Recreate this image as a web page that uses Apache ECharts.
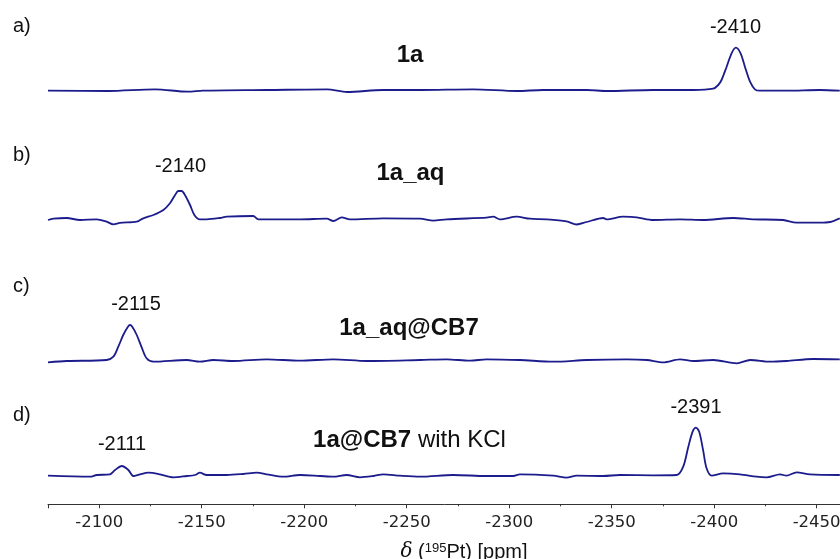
<!DOCTYPE html>
<html><head><meta charset="utf-8">
<script src="https://cdn.jsdelivr.net/npm/echarts@6/dist/echarts.min.js"></script>
<style>html,body{margin:0;padding:0;background:#fff}#c{width:840px;height:559px}</style>
</head><body><div id="c"></div>
<script>
// ---- data (chemical shift in ppm, intensity in arbitrary units) ----
const ppmA = [-2075,-2104.3,-2127.2,-2143.3,-2150.6,-2181.8,-2211.1,-2220.9,-2238.4,-2256.5,-2282.3,-2303.8,-2316.5,-2337.9,-2347.7,-2370.1,-2389.6,-2399.5,-2402,-2403.6,-2406.1,-2408.5,-2410.6,-2412.9,-2415,-2417.5,-2419.9,-2422.4,-2435.5,-2451.6,-2461.3];
const intA = [-0.2,-0.5,1.2,-1.2,-0.2,0.5,1.2,-1.5,0.5,0.5,1.2,-0.5,0.5,0.5,-0.5,0.5,0.5,1.8,5.5,10.5,23.8,37.2,42.8,37.2,23.8,8.8,1.2,-0.2,-0.2,0.5,-0.2];

const ppmB = [-2075,-2077.6,-2084.1,-2090.6,-2098.7,-2103.6,-2106.9,-2110.1,-2118.3,-2121.5,-2126.4,-2131.3,-2134.5,-2137,-2138.6,-2140.2,-2141.8,-2144.3,-2146.4,-2149.1,-2152.4,-2158.9,-2162.2,-2175.1,-2177.6,-2197.9,-2211,-2214.2,-2218.3,-2222.3,-2238.6,-2256.5,-2263,-2269.5,-2289,-2292.2,-2295.5,-2303.6,-2310.1,-2318.3,-2328,-2332.9,-2337.8,-2345.9,-2347.5,-2355.6,-2362.2,-2370.3,-2383.3,-2394.6,-2409.3,-2419,-2433.7,-2440.2,-2451.6,-2456.5,-2461.3];
const intB = [-0.7,0.6,1.3,-0.7,0,-2.4,-5,-3.5,-2.4,1,4.3,9.3,16,24.3,28.3,28.3,24.3,14.3,4.3,0,0,1.3,2.6,3.3,0,0,0.6,-1.7,2,0,1,0.6,-1.4,0,1.6,2.6,0,2.6,0.6,0,-2,-5.2,-2.7,1.3,0,2.6,2,-0.7,0,-0.7,1.3,0,-0.7,-3.4,-3.4,-2.7,1];

const ppmC = [-2075,-2084.1,-2103.6,-2106.9,-2109.3,-2111.7,-2114,-2115,-2116.1,-2118.3,-2120.7,-2123.1,-2126.4,-2142.7,-2149.1,-2155.6,-2165.4,-2181.7,-2197.9,-2214.2,-2230.5,-2256.5,-2269.5,-2280.9,-2289,-2305.2,-2321.5,-2337.8,-2357.3,-2367.1,-2375.2,-2383.3,-2389.9,-2399.6,-2411,-2417.6,-2427.3,-2435.3,-2448.3,-2461.3];
const intC = [-1.3,0,1,4.3,14.3,26,34.3,36,34.3,26,13.7,2.7,-0.7,1,-0.7,1,0,1.7,0.3,1.7,0,1,1.7,0.3,1.7,1,-0.7,1,1.7,1,-1.3,1.7,0,1,-2.3,1,-0.7,0,2,1.7];

const ppmD = [-2075,-2095.5,-2098.8,-2105.2,-2107.7,-2111,-2114.2,-2116.6,-2119.9,-2123.9,-2129.6,-2136.1,-2142.7,-2146.7,-2149.1,-2152.4,-2162.2,-2170.3,-2176.9,-2181.7,-2189.8,-2197.9,-2207.7,-2214.2,-2220.7,-2227.2,-2233.8,-2238.6,-2246.7,-2256.5,-2272.7,-2289,-2302,-2305.2,-2321.5,-2328,-2332.9,-2345.9,-2354,-2370.3,-2381.7,-2384.9,-2387.4,-2389.5,-2391.1,-2392.7,-2394.6,-2396.3,-2398.8,-2404.4,-2412.6,-2420.7,-2425.6,-2432.1,-2435.3,-2440.2,-2446.7,-2461.3];
const intD = [0,-1,0.7,1.4,5.7,9.7,5.7,-0.3,1.4,3,1.4,-1.6,-0.3,0.7,3,0.7,0.7,1.7,3,1.4,-1,0.7,-0.3,-1,0.7,-1.6,-0.3,1.4,0,-1,0.7,-0.3,-0.3,1.4,0,-2,0,-0.3,0.7,0.4,0.7,9,29,44,48,44,25.7,7.4,0,2.4,1.4,-1,-1.6,1.4,0,3.4,1.4,0.7];

const panelLabels = ['a)', 'b)', 'c)', 'd)'];
const sampleNames = ['{b|1a}', '{b|1a_aq}', '{b|1a_aq@CB7}', '{b|1a@CB7} with KCl'];
const peakLabels = [['-2410'], ['-2140'], ['-2115'], ['-2111', '-2391']];

// ---- layout ----
const spectra = [[ppmA, intA], [ppmB, intB], [ppmC, intC], [ppmD, intD]];
const baseY = [90.5, 219.3, 361, 475.7];
const panelLabelY = [26, 155.5, 286, 415.5];
const nameXY = [[410, 55], [410.5, 173], [409, 328], [409.5, 440]];
const peakXY = [[[735.5, 27]], [[180.5, 166]], [[136, 304]], [[122, 444], [696, 407]]];
const PX_PER_PPM = 2.0497;
const X_MIN = -2500, X_MAX = -2075;
const LEFT = 48, WIDTH = (X_MAX - X_MIN) * PX_PER_PPM;
const SANS = '"Liberation Sans", Arial, Helvetica, sans-serif';
const LINE = '#1c1c8c';

const grids = [], xAxes = [], yAxes = [], series = [];
spectra.forEach(function (s, i) {
  grids.push({ left: LEFT, width: WIDTH, top: baseY[i] - 60, height: 80, outerBoundsMode: 'none', containLabel: false });
  const bottom = i === 3;
  xAxes.push({
    type: 'value', gridIndex: i, min: X_MIN, max: X_MAX, inverse: true, interval: 50,
    show: bottom, position: 'bottom', offset: 8.6,
    axisLine: { show: true, onZero: false, lineStyle: { color: '#333', width: 1 } },
    axisTick: { show: true, length: 4, lineStyle: { color: '#333', width: 1 } },
    axisLabel: { show: true, margin: 10, color: '#222', fontFamily: '"DejaVu Sans", sans-serif', fontSize: 16.5,
      formatter: function (v) { return Math.abs(v % 50) < 1e-6 ? String(v) : ''; } },
    splitLine: { show: false }
  });
  yAxes.push({ type: 'value', gridIndex: i, min: -20, max: 60, show: false });
  const n = Math.min(s[0].length, s[1].length);
  const data = [];
  for (let k = 0; k < n; k++) data.push([s[0][k], s[1][k]]);
  series.push({
    type: 'line', xAxisIndex: i, yAxisIndex: i, data: data, showSymbol: false, smooth: 0.3,
    lineStyle: { color: LINE, width: 1.8 }, silent: true, animation: false
  });
});
// minor ticks axis (every 25 ppm) on bottom panel
xAxes.push({
  type: 'value', gridIndex: 3, min: X_MIN, max: X_MAX, inverse: true, interval: 25,
  position: 'bottom', offset: 8.6,
  axisLine: { show: false, onZero: false }, axisLabel: { show: false }, splitLine: { show: false },
  axisTick: { show: true, length: 2, lineStyle: { color: '#333', width: 1 } }
});

const graphic = [];
panelLabels.forEach(function (t, i) {
  graphic.push({ type: 'text', x: 13, y: panelLabelY[i],
    style: { text: t, font: '20px ' + SANS, fill: '#111', textAlign: 'left', textVerticalAlign: 'middle' } });
});
sampleNames.forEach(function (t, i) {
  graphic.push({ type: 'text', x: nameXY[i][0], y: nameXY[i][1],
    style: { text: t, fontSize: 24, fontFamily: SANS, fill: '#111', textAlign: 'center', textVerticalAlign: 'middle',
      rich: { b: { fontSize: 24, fontFamily: SANS, fontWeight: 'bold', fill: '#111' } } } });
});
peakLabels.forEach(function (arr, i) {
  arr.forEach(function (t, j) {
    graphic.push({ type: 'text', x: peakXY[i][j][0], y: peakXY[i][j][1],
      style: { text: t, font: '20px ' + SANS, fill: '#111', textAlign: 'center', textVerticalAlign: 'middle' } });
  });
});
graphic.push({ type: 'text', x: 464, y: 552,
  style: { text: '{i|δ} ({s|195}Pt) [ppm]', fontSize: 20, fontFamily: SANS, fill: '#111',
    textAlign: 'center', textVerticalAlign: 'middle',
    rich: { i: { fontSize: 20, fontFamily: '"DejaVu Serif", serif', fontStyle: 'italic', fill: '#111' },
            s: { fontSize: 13, fontFamily: SANS, verticalAlign: 'top', fill: '#111' } } } });

const chart = echarts.init(document.getElementById('c'), null, { renderer: 'canvas' });
chart.setOption({
  animation: false, backgroundColor: '#fff',
  grid: grids, xAxis: xAxes, yAxis: yAxes, series: series, graphic: graphic
});
</script></body></html>
